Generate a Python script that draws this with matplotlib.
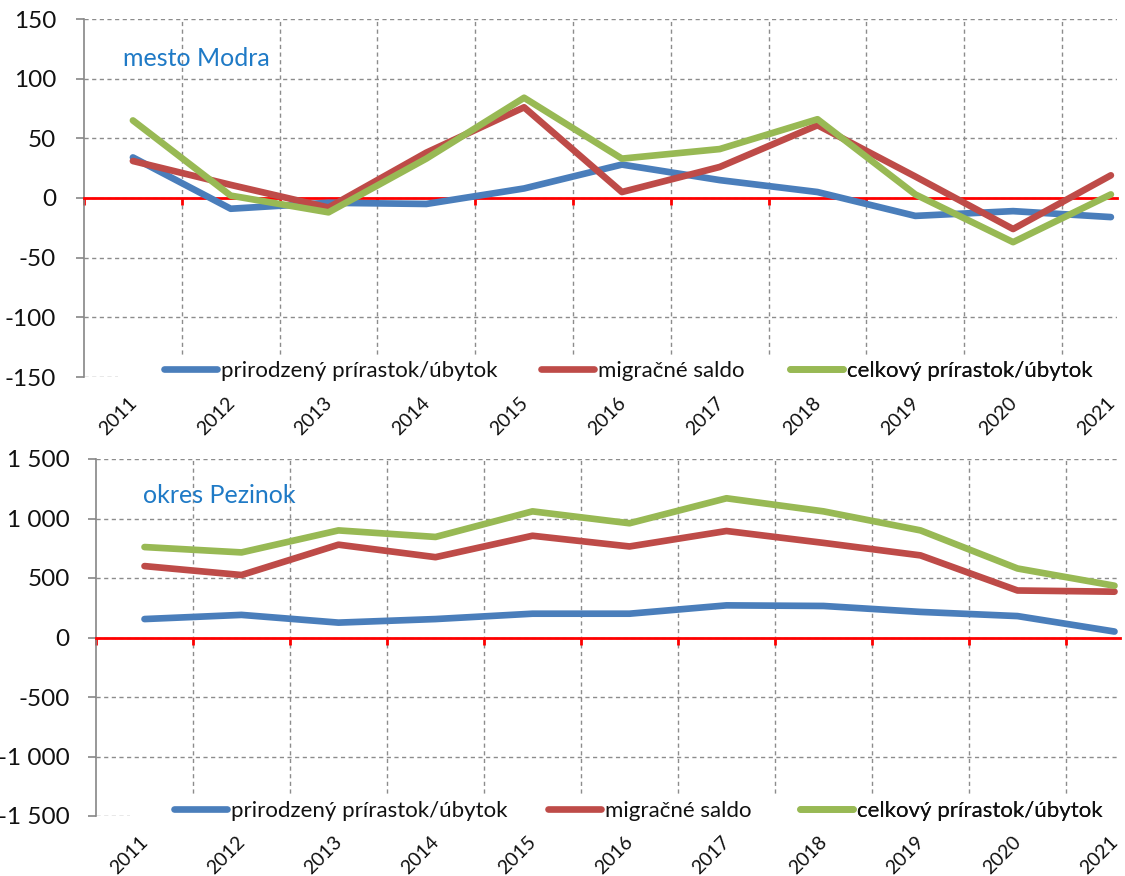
import matplotlib
matplotlib.use('Agg')
import matplotlib.pyplot as plt
from matplotlib import transforms
from matplotlib.patches import Rectangle

# ---------------- data ----------------
years = ['2011', '2012', '2013', '2014', '2015', '2016', '2017', '2018', '2019', '2020', '2021']
series_labels = ['prirodzený prírastok/úbytok', 'migračné saldo', 'celkový prírastok/úbytok']

modra_prirodzeny = [34, -9, -4, -5, 8, 28, 15, 5, -15, -11, -16]
modra_migracne = [31, 11, -8, 38, 76, 5, 26, 61, 18, -26, 19]
modra_celkovy = [65, 2, -12, 33, 84, 33, 41, 66, 3, -37, 3]

pezinok_prirodzeny = [155, 190, 125, 155, 200, 200, 270, 265, 215, 180, 50]
pezinok_migracne = [600, 525, 780, 675, 855, 765, 895, 795, 690, 395, 385]
pezinok_celkovy = [760, 715, 900, 845, 1060, 960, 1170, 1060, 900, 580, 435]

modra_ticks = [-150, -100, -50, 0, 50, 100, 150]
pezinok_ticks = [-1500, -1000, -500, 0, 500, 1000, 1500]
modra_ticklabels = ['-150', '-100', '-50', '0', '50', '100', '150']
pezinok_ticklabels = ['-1 500', '-1 000', '-500', '0', '500', '1 000', '1 500']

titles = ['mesto Modra', 'okres Pezinok']

# ---------------- style ----------------
W, H = 1125, 876
DPI = 100
FONT = ['Lato', 'DejaVu Sans']
plt.rcParams['font.family'] = FONT

colors = ['#4a7ebb', '#be4b48', '#98b954']
grid_color = '#8c8c8c'
title_color = '#1f7ac6'

fig = plt.figure(figsize=(W / DPI, H / DPI), dpi=DPI)
fig.patch.set_facecolor('white')


def px_rect(left, right, top, bottom):
    return [left / W, 1 - bottom / H, (right - left) / W, (bottom - top) / H]


panels = [
    dict(rect=(84, 1117, 19, 377), step=97.8, ticks=modra_ticks, ticklabels=modra_ticklabels,
         data=[modra_prirodzeny, modra_migracne, modra_celkovy], title=titles[0],
         title_xy=(123, 58), legend_x=[164, 541, 790], legend_y=371,
         cover_x=118, cover_top=355, label_pad=14),
    dict(rect=(96, 1120, 459, 816), step=97.0, ticks=pezinok_ticks, ticklabels=pezinok_ticklabels,
         data=[pezinok_prirodzeny, pezinok_migracne, pezinok_celkovy], title=titles[1],
         title_xy=(143, 495), legend_x=[174, 548, 800], legend_y=811,
         cover_x=130, cover_top=795, label_pad=13),
]

n = len(years)
xs = list(range(n))

for p in panels:
    left, right, top, bottom = p['rect']
    ax = fig.add_axes(px_rect(left, right, top, bottom))
    ax.set_facecolor('white')
    step = p['step']  # category spacing in pixels (chart is cropped at the right)
    ax.set_xlim(-0.5, (right - left) / step - 0.5)
    ax.set_ylim(p['ticks'][0], p['ticks'][-1])

    # spines
    ax.spines['top'].set_visible(False)
    ax.spines['right'].set_visible(False)
    ax.spines['left'].set_color('#868686')
    ax.spines['left'].set_linewidth(1.2)
    ax.spines['bottom'].set_position(('data', 0))
    ax.spines['bottom'].set_color('#ff0000')
    ax.spines['bottom'].set_linewidth(2.0)
    ax.spines['bottom'].set_zorder(2.5)

    # y axis
    ax.set_yticks(p['ticks'])
    ax.set_yticklabels(p['ticklabels'])
    ax.tick_params(axis='y', direction='out', length=6, width=1.2, color='#868686',
                   labelsize=17.5, pad=p['label_pad'], labelcolor='#111111')

    # x axis: red tick marks at category boundaries on the zero line
    boundaries = [i - 0.5 for i in range(n)]
    ax.set_xticks(boundaries)
    ax.tick_params(axis='x', direction='out', length=5, width=2.0, color='#ff0000',
                   labelbottom=False)

    # gridlines
    ax.set_axisbelow(True)
    ax.grid(axis='y', color=grid_color, linestyle=(0, (3, 2.5)), linewidth=1.0)
    for b in boundaries[1:]:
        ax.axvline(b, color=grid_color, linestyle=(0, (3, 2.5)), linewidth=1.0, zorder=0.5)

    # lines
    handles = []
    for vals, c, lab in zip(p['data'], colors, series_labels):
        ln, = ax.plot(xs, vals, color=c, linewidth=4.8, solid_capstyle='round',
                      solid_joinstyle='round', zorder=3, label=lab)
        handles.append(ln)

    # white legend area covering the bottom of the plot
    ax_w = right - left
    ax_h = bottom - top
    cover = Rectangle(((p['cover_x'] - left) / ax_w, -0.02),
                      1.2, (bottom - p['cover_top']) / ax_h + 0.02,
                      transform=ax.transAxes, facecolor='white', edgecolor='none',
                      zorder=1.5, clip_on=False)
    ax.add_patch(cover)

    # legends (one per entry, placed like the reference)
    for h, lab, lx in zip(handles, series_labels, p['legend_x']):
        lg = ax.legend(handles=[h], labels=[lab], loc='center left',
                       bbox_to_anchor=(lx / W, 1 - p['legend_y'] / H),
                       bbox_transform=fig.transFigure, frameon=False,
                       borderpad=0, borderaxespad=0, handlelength=2.4,
                       handletextpad=0.15, fontsize=16)
        for t in lg.get_texts():
            t.set_color('#111111')
        ax.add_artist(lg)

    # category labels, rotated 45 degrees, at the bottom
    trans = transforms.offset_copy(ax.get_xaxis_transform(), fig=fig, x=1, y=-23, units='dots')
    for i, yr in enumerate(years):
        ax.text(i, 0, yr, rotation=45, rotation_mode='anchor', ha='right', va='center',
                fontsize=14, color='#111111', transform=trans, clip_on=False)

    # title
    fig.text(p['title_xy'][0] / W, 1 - p['title_xy'][1] / H, p['title'],
             color=title_color, fontsize=18, ha='left', va='center')

fig.savefig('out.png', dpi=DPI, facecolor='white')
